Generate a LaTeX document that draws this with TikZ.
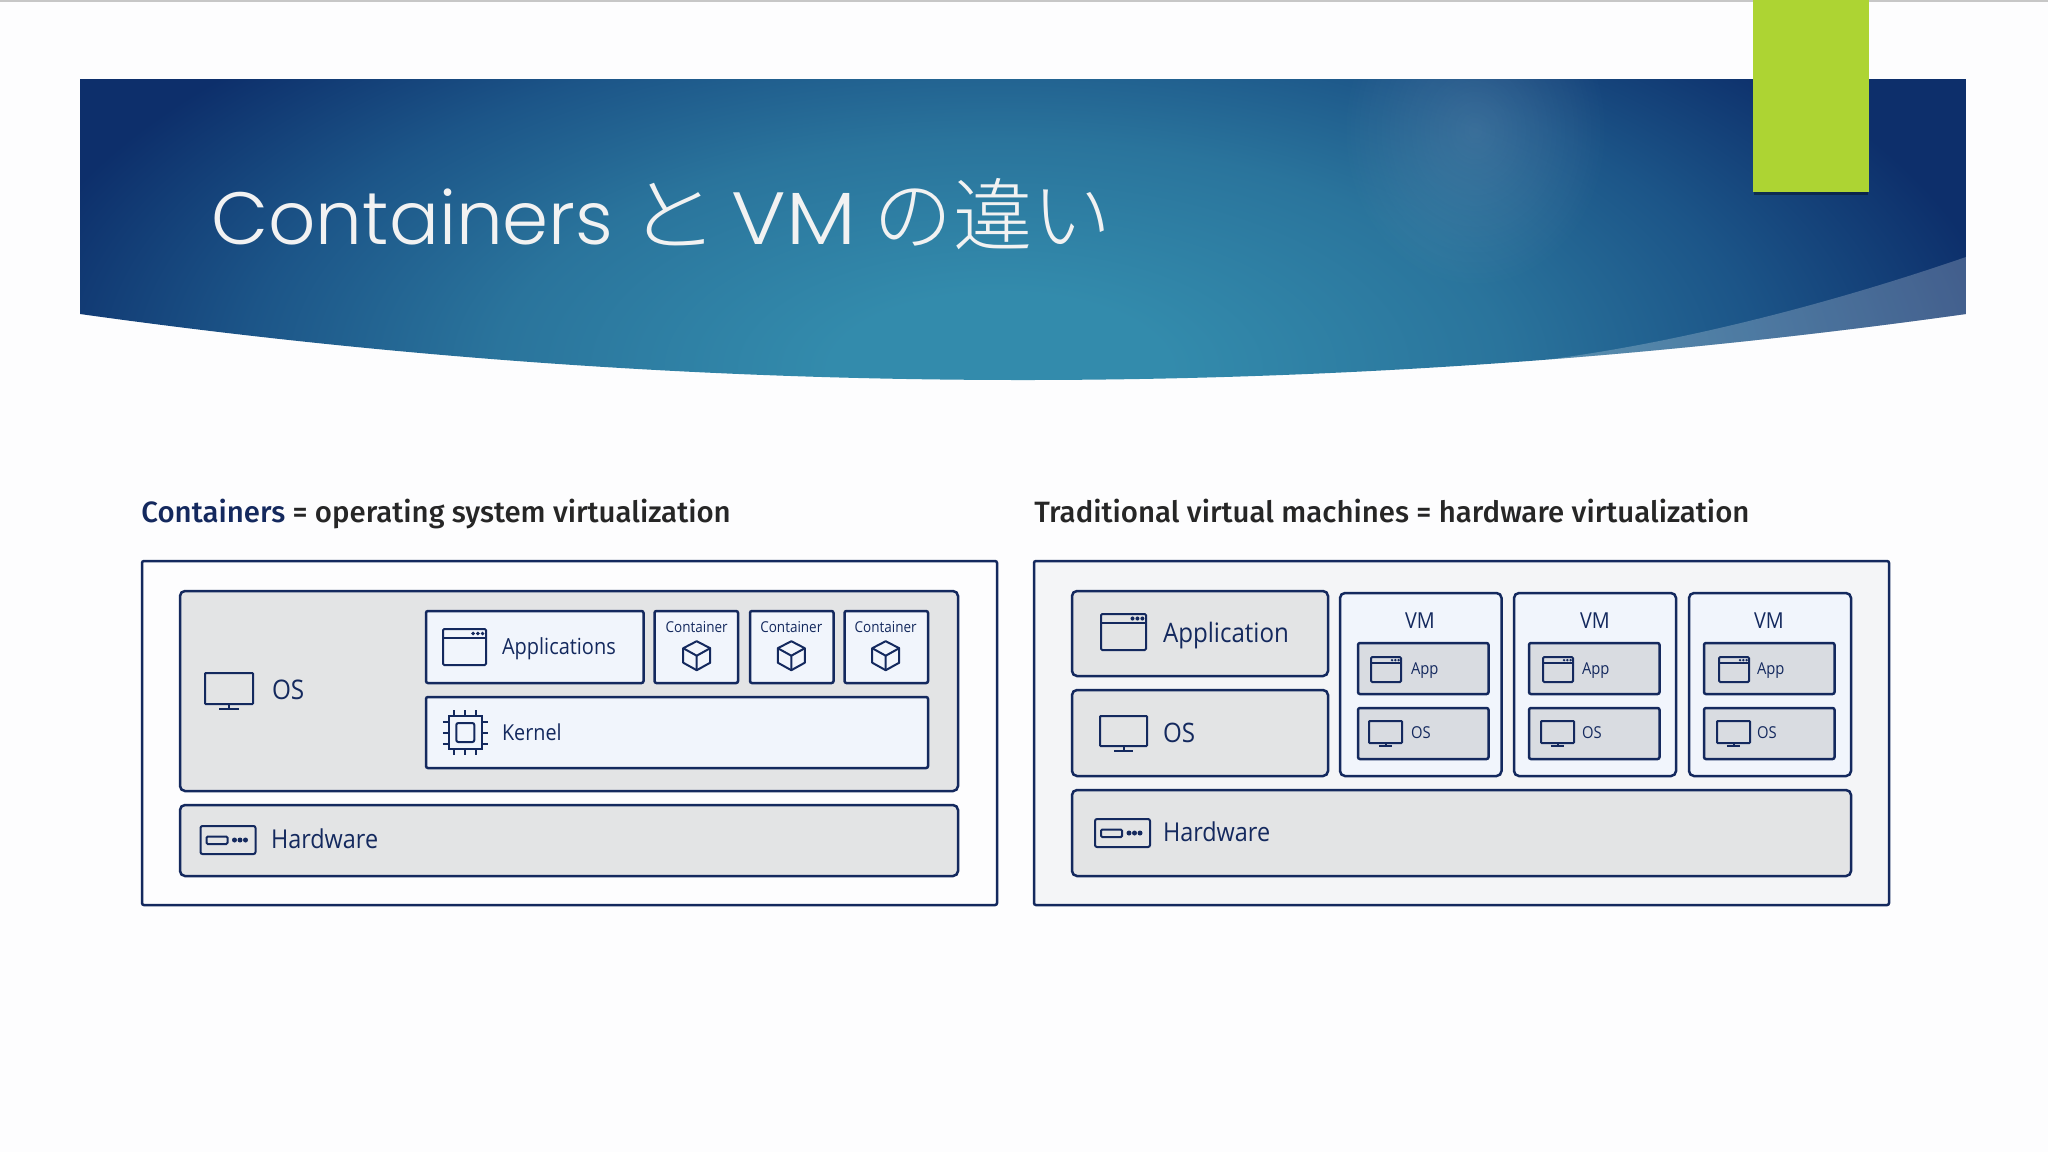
\documentclass[tikz,border=0pt]{standalone}
\usepackage{fontspec}
\setmainfont[FakeStretch=0.9]{Open Sans}
\IfFontExistsTF{Fira Sans Medium}{\newfontfamily\semifont[FakeStretch=1.0]{Fira Sans Medium}}{\newfontfamily\semifont[FakeStretch=0.93]{Open Sans Bold}}
\newfontfamily\titlefont{Poppins Light}
\newfontfamily\cjkfont[Scale=1.07]{Noto Sans CJK JP Light}
\newfontfamily\cjkbig[Scale=1.08,FakeStretch=1.15]{Noto Sans CJK JP Light}
\usetikzlibrary{fadings}
\definecolor{navy}{HTML}{14295E}
\definecolor{grayfill}{HTML}{E3E4E5}
\definecolor{lightfill}{HTML}{F1F5FC}
\definecolor{smallfill}{HTML}{D9DCE1}
\definecolor{pagefill}{HTML}{FDFDFE}
\definecolor{vmouter}{HTML}{F4F5F7}
\definecolor{lime}{HTML}{ADD433}
\definecolor{c1}{HTML}{338BAC}
\definecolor{c2}{HTML}{2A749C}
\definecolor{c3}{HTML}{1C5588}
\definecolor{c4}{HTML}{0D2F6B}
\pgfdeclareradialshading{bannerglow}{\pgfpoint{0bp}{0bp}}{color(0bp)=(c1); color(4bp)=(c1); color(12bp)=(c2); color(18bp)=(c3); color(24bp)=(c4); color(50bp)=(c4)}
\tikzfading[name=softblob,inner color=transparent!0,outer color=transparent!100]
\tikzset{
 box/.style={draw=navy,line width=1.25pt,rounded corners=1pt},
 rbox/.style={draw=navy,line width=1.25pt,rounded corners=2.5pt},
 ico/.style={draw=navy,line width=1pt},
 lbl/.style={text=navy,anchor=base west,inner sep=0pt,outer sep=0pt},
 clbl/.style={text=navy,anchor=base,inner sep=0pt,outer sep=0pt},
}
\newcommand{\winicon}[4]{\begin{scope}[shift={(#1,#2)}]
 \draw[ico,rounded corners=.6pt] (0,0) rectangle (#3,#4);
 \draw[ico] (0,#4*.25)--(#3,#4*.25);
 \foreach \k in {.92,.81,.70}{\fill[navy] (#3*\k,#4*.125) circle[radius=#3*.045];}
\end{scope}}
\newcommand{\monicon}[5]{\begin{scope}[shift={(#1,#2)}]
 \draw[ico,rounded corners=.4pt] (0,0) rectangle (#3,#4);
 \draw[ico] (#3*.5,#4)--(#3*.5,#5);
 \draw[ico] (#3*.5-#3*.2,#5)--(#3*.5+#3*.2,#5);
\end{scope}}
\newcommand{\hwicon}[2]{\begin{scope}[shift={(#1,#2)}]
 \draw[ico,rounded corners=1pt] (0,0) rectangle (55,28);
 \draw[ico,rounded corners=.6pt] (6,10.5) rectangle (27,18);
 \foreach \k in {34,39.5,45}{\fill[navy] (\k,14) circle[radius=2.5];}
\end{scope}}
\newcommand{\cubeicon}[2]{\begin{scope}[shift={(#1,#2)}]
 \draw[ico,line join=round] (0,-14.5)--(13.5,-7.5)--(13.5,7)--(0,14.5)--(-13.5,7)--(-13.5,-7.5)--cycle;
 \draw[ico,line join=round] (-13.5,-7.5)--(0,0)--(13.5,-7.5) (0,0)--(0,14.5);
\end{scope}}
\newcommand{\chipicon}[2]{\begin{scope}[shift={(#1,#2)}]
 \draw[ico] (-16.5,-16.5) rectangle (16.5,16.5);
 \draw[ico,rounded corners=1pt] (-9,-9.5) rectangle (9,9.5);
 \foreach \k in {-11,0,11}{
  \draw[ico] (-22.5,\k)--(-16.5,\k) (16.5,\k)--(22.5,\k) (\k,-22.5)--(\k,-16.5) (\k,16.5)--(\k,22.5);}
\end{scope}}
\begin{document}
\begin{tikzpicture}[x=0.5pt,y=-0.5pt]
\useasboundingbox (0,0) rectangle (2048,1152);
\fill[pagefill] (0,0) rectangle (2048,1152);
\fill[black!22] (0,0) rectangle (2048,1.5);
% banner
\begin{scope}
 \clip (80,79) -- (1966,79) -- (1966,314) .. controls (1337,402) and (709,402) .. (80,314) -- cycle;
 \shade[shading=bannerglow] (-50,-110) rectangle (2050,850);
 \fill[white,opacity=.12,path fading=softblob] (1340,-30) rectangle (1610,290);
 \fill[white,opacity=.22] (1460,368) .. controls (1600,360) and (1783,320) .. (1966,257) -- (1966,400) -- (1460,400) -- cycle;
\end{scope}
\fill[black,opacity=.35] (1754,192) rectangle (1868,195);
\fill[lime] (1753,0) rectangle (1869,192);
\node (title) [anchor=base west,inner sep=0pt,text=white!95!black,font=\fontsize{37}{44}\selectfont\titlefont] at (211,244) {Containers\kern-3pt{} {\cjkbig と}\kern-4pt{} {\addfontfeature{FakeStretch=1.12}VM}\kern-1.3pt{} {\cjkfont の違い}};
% headings
\node (hleft) [anchor=base west,inner sep=0pt,font=\fontsize{14.7}{18}\selectfont\semifont] at (141,522) {\textcolor{navy}{Containers} \textcolor{black!85}{= operating system virtualization}};
\node (hright) [anchor=base west,inner sep=0pt,text=black!85,font=\fontsize{14.7}{18}\selectfont\semifont] at (1034,522) {Traditional virtual machines = hardware virtualization};
% left panel
\draw[box,fill=pagefill] (142,561) rectangle (997,905);
\draw[rbox,fill=grayfill] (180,591) rectangle (958,791);
\draw[rbox,fill=grayfill] (180,805) rectangle (958,876);
\draw[box,fill=lightfill] (426,611) rectangle (643.5,683);
\draw[box,fill=lightfill] (654.5,611) rectangle (738,683);
\draw[box,fill=lightfill] (750,611) rectangle (833.5,683);
\draw[box,fill=lightfill] (844.5,611) rectangle (928,683);
\draw[box,fill=lightfill] (426,697) rectangle (928,768);
\monicon{205}{673}{48}{31}{36}
\hwicon{200.5}{826}
\winicon{443}{629}{43}{36}
\chipicon{465.3}{732.5}
\cubeicon{696.7}{655.7}
\cubeicon{791.3}{655.7}
\cubeicon{885.7}{655.7}
\node (osl) [lbl,font=\fontsize{13.5}{16}\selectfont] at (272,699) {OS};
\node (hwl) [lbl,font=\fontsize{13}{16}\selectfont] at (271,848) {Hardware};
\node (apps) [lbl,font=\fontsize{11.1}{16}\selectfont] at (502,654) {Applications};
\node (kern) [lbl,font=\fontsize{11}{16}\selectfont] at (502,740) {Kernel};
\node (c1n) [clbl,font=\fontsize{7.5}{10}\selectfont] at (696.7,632) {Container};
\node (c2n) [clbl,font=\fontsize{7.5}{10}\selectfont] at (791.3,632) {Container};
\node (c3n) [clbl,font=\fontsize{7.5}{10}\selectfont] at (885.7,632) {Container};
% right panel
\draw[box,fill=vmouter] (1034,561) rectangle (1889,905);
\draw[rbox,fill=grayfill] (1072,591) rectangle (1328,676);
\draw[rbox,fill=grayfill] (1072,690) rectangle (1328,776);
\draw[rbox,fill=grayfill] (1072,790) rectangle (1851,876);
\draw[rbox,fill=lightfill] (1340,593) rectangle (1501.5,776);
\draw[rbox,fill=lightfill] (1514,593) rectangle (1676,776);
\draw[rbox,fill=lightfill] (1689,593) rectangle (1851,776);
\foreach \xa in {1358,1529,1704}{
 \draw[box,fill=smallfill] (\xa,643) rectangle (\xa+130.5,694);
 \draw[box,fill=smallfill] (\xa,708) rectangle (\xa+130.5,759);
}
\winicon{1101}{614}{45}{36}
\monicon{1100}{716}{47}{30}{35}
\hwicon{1095}{819}
\winicon{1371}{657}{30}{25}
\winicon{1543}{657}{30}{25}
\winicon{1719}{657}{30}{25}
\monicon{1369}{721}{33}{22}{25}
\monicon{1541}{721}{33}{22}{25}
\monicon{1717}{721}{33}{22}{25}
\node (appl) [lbl,font=\fontsize{13.4}{16}\selectfont] at (1163,642) {Application};
\node (osr) [lbl,font=\fontsize{13.4}{16}\selectfont] at (1163,742) {OS};
\node (hwr) [lbl,font=\fontsize{13}{16}\selectfont] at (1163,841) {Hardware};
\node (vm1) [clbl,font=\fontsize{11}{12}\selectfont] at (1420,628) {VM};
\node (vm2) [clbl,font=\fontsize{11}{12}\selectfont] at (1595,628) {VM};
\node (vm3) [clbl,font=\fontsize{11}{12}\selectfont] at (1769,628) {VM};
\node (a1) [lbl,font=\fontsize{8.2}{10}\selectfont] at (1411,674) {App};
\node (a2) [lbl,font=\fontsize{8.2}{10}\selectfont] at (1582,674) {App};
\node (a3) [lbl,font=\fontsize{8.2}{10}\selectfont] at (1757,674) {App};
\node (o1) [lbl,font=\fontsize{8.2}{10}\selectfont] at (1411,738) {OS};
\node (o2) [lbl,font=\fontsize{8.2}{10}\selectfont] at (1582,738) {OS};
\node (o3) [lbl,font=\fontsize{8.2}{10}\selectfont] at (1757,738) {OS};
\end{tikzpicture}
\end{document}
